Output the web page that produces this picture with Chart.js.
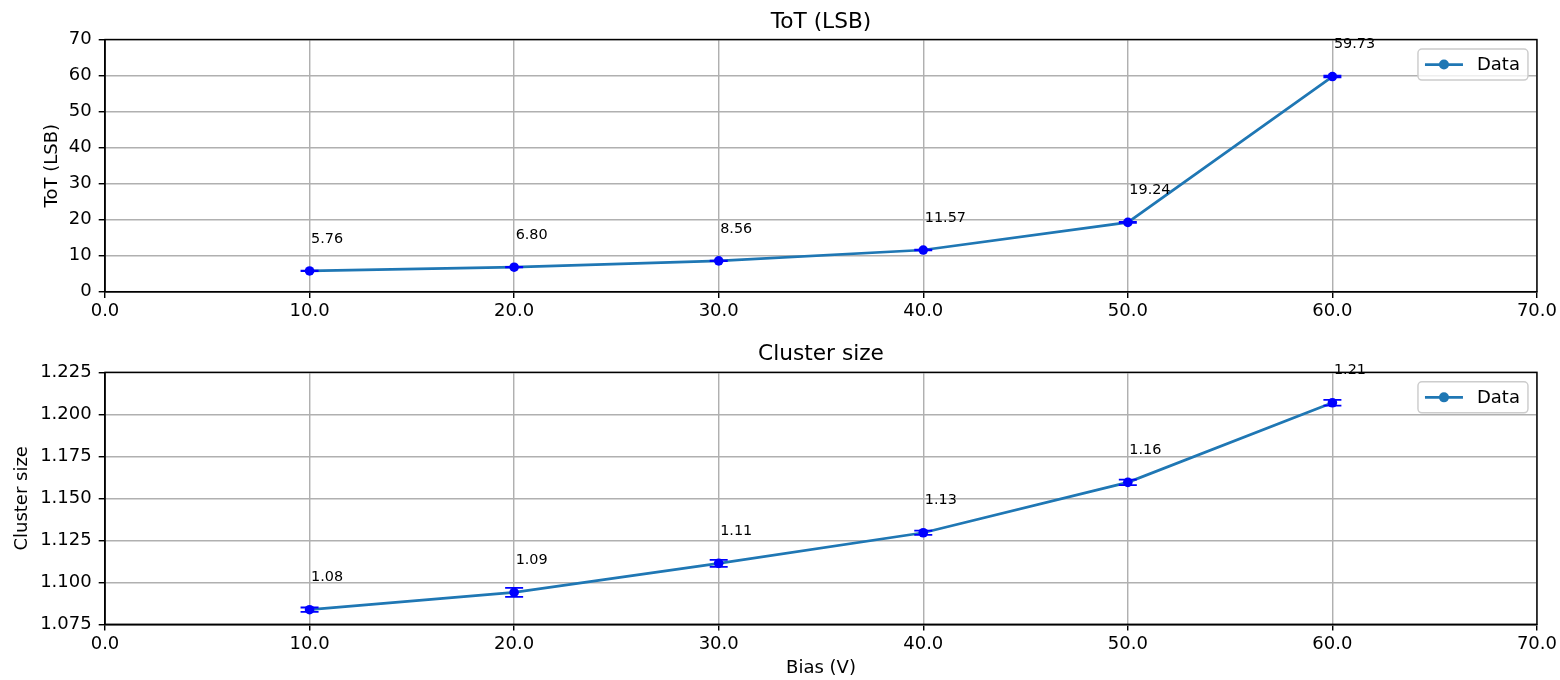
<!DOCTYPE html>
<html>
<head>
<meta charset="utf-8">
<script src="https://cdn.jsdelivr.net/npm/chart.js@4/dist/chart.umd.min.js"></script>
<style>
  html, body { margin: 0; padding: 0; background: #ffffff; }
  .panel { position: absolute; left: 0; width: 1560px; height: 340px; }
</style>
</head>
<body>
<div class="panel" style="top:0px"><canvas id="topChart"></canvas></div>
<div class="panel" style="top:340px"><canvas id="bottomChart"></canvas></div>
<script>
// ---------- data ----------
const biasV = [10, 20, 30, 40, 50, 60];
const totValues = [5.76, 6.80, 8.56, 11.57, 19.24, 59.73];
const totErrors = [0.05, 0.05, 0.06, 0.08, 0.12, 0.25];
const clusterValues = [1.0837, 1.0940, 1.1113, 1.1295, 1.1595, 1.2069];
const clusterErrors = [0.0013, 0.0027, 0.0021, 0.0013, 0.0016, 0.0017];
const seriesLabel = 'Data';
const topTitle = 'ToT (LSB)';
const topYLabel = 'ToT (LSB)';
const bottomTitle = 'Cluster size';
const bottomYLabel = 'Cluster size';
const xLabel = 'Bias (V)';

// ---------- styling ----------
const FONT = "'DejaVu Sans', 'Liberation Sans', sans-serif";
Chart.defaults.font.family = FONT;
Chart.defaults.color = '#000000';
const C0 = '#1f77b4';
const AX = 1.44;
const TICKFONT = 18;

function pts(xs, ys) { return xs.map((x, i) => ({ x: x, y: ys[i] })); }

const errorBarPlugin = {
  id: 'errbars',
  afterDatasetDraw(chart, args) {
    const ds = chart.data.datasets[args.index];
    if (!ds.errors) return;
    const ctx = chart.ctx, xs = chart.scales.x, ys = chart.scales.y;
    ctx.save();
    ctx.strokeStyle = '#0000ff';
    ctx.lineWidth = 1.8;
    ds.data.forEach((p, i) => {
      const e = ds.errors[i];
      const px = xs.getPixelForValue(p.x);
      const y1 = ys.getPixelForValue(p.y - e);
      const y2 = ys.getPixelForValue(p.y + e);
      ctx.beginPath();
      ctx.moveTo(px, y1); ctx.lineTo(px, y2);
      ctx.moveTo(px - 9, y1); ctx.lineTo(px + 9, y1);
      ctx.moveTo(px - 9, y2); ctx.lineTo(px + 9, y2);
      ctx.stroke();
    });
    ctx.restore();
  }
};

const framePlugin = {
  id: 'frameAndNotes',
  afterDraw(chart) {
    const ctx = chart.ctx, a = chart.chartArea;
    ctx.save();
    ctx.strokeStyle = '#000000';
    ctx.lineWidth = AX;
    ctx.strokeRect(a.left, a.top, a.right - a.left, a.bottom - a.top);
    const ds = chart.data.datasets.find(d => d.annotate);
    if (ds) {
      ctx.fillStyle = '#000000';
      ctx.font = '14.4px ' + FONT;
      ctx.textAlign = 'left';
      ctx.textBaseline = 'middle';
      ds.data.forEach(p => {
        const px = chart.scales.x.getPixelForValue(p.x);
        const py = chart.scales.y.getPixelForValue(p.y);
        ctx.fillText(p.y.toFixed(2), px + 1.5, py - 32);
      });
    }
    // legend
    const label = chart.data.datasets[0].label;
    const w = 110, h = 31;
    const x0 = a.right - 9 - w, y0 = a.top + 9.5;
    ctx.beginPath();
    if (ctx.roundRect) ctx.roundRect(x0, y0, w, h, 4); else ctx.rect(x0, y0, w, h);
    ctx.fillStyle = 'rgba(255,255,255,0.8)';
    ctx.fill();
    ctx.strokeStyle = '#cccccc';
    ctx.lineWidth = 1.44;
    ctx.stroke();
    const cy = y0 + h / 2;
    ctx.strokeStyle = C0;
    ctx.lineWidth = 2.7;
    ctx.beginPath();
    ctx.moveTo(x0 + 7, cy); ctx.lineTo(x0 + 45, cy);
    ctx.stroke();
    ctx.fillStyle = C0;
    ctx.beginPath();
    ctx.arc(x0 + 26, cy, 5, 0, Math.PI * 2);
    ctx.fill();
    ctx.fillStyle = '#000000';
    ctx.font = TICKFONT + 'px ' + FONT;
    ctx.textAlign = 'left';
    ctx.textBaseline = 'middle';
    ctx.fillText(label, x0 + 59, cy + 1);
    ctx.restore();
  }
};

function makeChart(id, cfg) {
  const yTickCb = cfg.yDecimals === 0 ? (v => String(Math.round(v))) : (v => Number(v).toFixed(cfg.yDecimals));
  return new Chart(document.getElementById(id), {
    type: 'scatter',
    data: {
      datasets: [
        {
          label: seriesLabel,
          data: pts(biasV, cfg.values),
          showLine: true,
          borderColor: C0,
          borderWidth: 2.7,
          pointRadius: 0,
          fill: false,
          order: 2,
          errors: cfg.errors,
          annotate: true
        },
        {
          label: seriesLabel + ' markers',
          data: pts(biasV, cfg.values),
          showLine: false,
          pointRadius: 4.8,
          pointBackgroundColor: '#0000ff',
          pointBorderColor: '#0000ff',
          pointBorderWidth: 0,
          order: 0
        }
      ]
    },
    options: {
      responsive: true,
      maintainAspectRatio: false,
      animation: false,
      events: [],
      layout: { padding: { left: 0, right: 23, top: 0, bottom: 0 } },
      plugins: {
        legend: { display: false },
        tooltip: { enabled: false },
        title: {
          display: true,
          fullSize: false,
          text: cfg.title,
          color: '#000000',
          font: { size: 21.7, weight: 'normal', family: FONT, lineHeight: 1.2 },
          padding: cfg.titlePad
        }
      },
      scales: {
        x: {
          type: 'linear',
          position: 'bottom',
          min: 0, max: 70,
          afterFit: s => { s.height = cfg.xHeight; },
          border: { display: true, color: '#000000', width: AX },
          grid: { color: '#b0b0b0', lineWidth: AX, drawTicks: true, tickLength: 6.3, tickColor: '#000000', tickWidth: AX },
          ticks: { stepSize: 10, padding: 3, color: '#000000', font: { size: TICKFONT, family: FONT }, callback: v => Number(v).toFixed(1), maxRotation: 0 },
          title: cfg.xTitle ? { display: true, text: xLabel, color: '#000000', font: { size: TICKFONT, family: FONT, lineHeight: 1.2 }, padding: { top: 0, bottom: 1 } } : { display: false }
        },
        y: {
          type: 'linear',
          position: 'left',
          min: cfg.yMin, max: cfg.yMax,
          afterFit: s => { s.width = 105; },
          border: { display: true, color: '#000000', width: AX },
          grid: { color: '#b0b0b0', lineWidth: AX, drawTicks: true, tickLength: 6.3, tickColor: '#000000', tickWidth: AX },
          ticks: { stepSize: cfg.yStep, padding: 7, color: '#000000', font: { size: TICKFONT, family: FONT }, callback: yTickCb },
          title: { display: true, text: cfg.yTitle, color: '#000000', font: { size: TICKFONT, family: FONT, lineHeight: 1.2 }, padding: { top: cfg.yTitlePad, bottom: 0 } }
        }
      }
    },
    plugins: [errorBarPlugin, framePlugin]
  });
}

makeChart('topChart', {
  values: totValues, errors: totErrors,
  title: topTitle, yTitle: topYLabel,
  yMin: 0, yMax: 70, yStep: 10, yDecimals: 0,
  titlePad: { top: 9, bottom: 4.5 },
  xHeight: 48.3, xTitle: false, yTitlePad: 41.5
});

makeChart('bottomChart', {
  values: clusterValues, errors: clusterErrors,
  title: bottomTitle, yTitle: bottomYLabel,
  yMin: 1.075, yMax: 1.225, yStep: 0.025, yDecimals: 3,
  titlePad: { top: 1, bottom: 5.3 },
  xHeight: 55.7, xTitle: true, yTitlePad: 12
});
</script>
</body>
</html>
